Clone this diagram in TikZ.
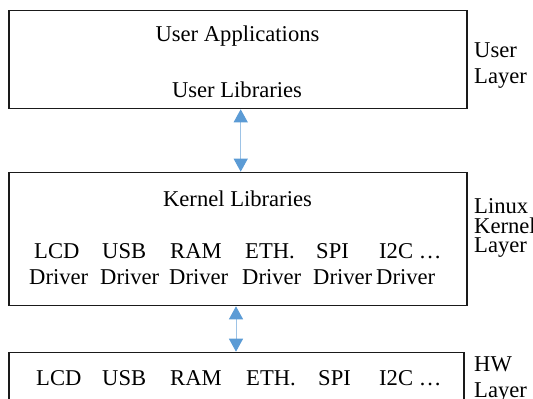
\documentclass[tikz,border=0pt]{standalone}
\usepackage{fontspec}
\setmainfont{Liberation Serif}
\newfontfamily\layerfont{Liberation Serif}
\usetikzlibrary{arrows.meta}
\definecolor{framegray}{HTML}{1A1A1A}
\definecolor{linkblue}{HTML}{5B9BD5}
\definecolor{linkline}{HTML}{9DC3E6}

\begin{document}
\begin{tikzpicture}[x=1pt,y=-1pt,
  layerbox/.style={draw=framegray,line width=1.6pt,inner sep=0pt},
  boxtext/.style={font=\layerfont\fontsize{22.6}{26}\selectfont,inner sep=0pt,anchor=base},
  devword/.style={font=\layerfont\fontsize{22.6}{26}\selectfont,inner sep=0pt,anchor=base west},
  sidetext/.style={font=\layerfont\fontsize{22.6}{26}\selectfont,inner sep=0pt,anchor=north west,align=left},
  link/.style={draw=linkline,line width=1pt,
    {Triangle[width=14pt,length=13pt,color=linkblue]}-{Triangle[width=14pt,length=13pt,color=linkblue]}}]
  \clip (0,0) rectangle (533,399);

  % User layer
  \node[layerbox,minimum width=458pt,minimum height=98pt] (userbox) at (238,59.5) {};
  \node[boxtext] (userapps) at (237.5,41) {User Applications};
  \node[boxtext] (userlibs) at (237,97) {User Libraries};
  \node[sidetext] (userside) at (474,42.4) {User\\Layer};

  % Kernel layer
  \node[layerbox,minimum width=458pt,minimum height=133pt] (kernelbox) at (238,239) {};
  \node[boxtext] (kernlibs) at (237.5,206) {Kernel Libraries};
  \node[devword] (klcd) at (34,258) {LCD};
  \node[devword] (kusb) at (102,258) {USB};
  \node[devword] (kram) at (170,258) {RAM};
  \node[devword] (keth) at (245,258) {ETH.};
  \node[devword] (kspi) at (316,258) {SPI};
  \node[devword] (ki2c) at (379,258) {I2C …};
  \node[devword] (dlcd) at (29,284) {Driver};
  \node[devword] (dusb) at (100,284) {Driver};
  \node[devword] (dram) at (169,284) {Driver};
  \node[devword] (deth) at (242,284) {Driver};
  \node[devword] (dspi) at (313,284) {Driver};
  \node[devword] (di2c) at (376,284) {Driver};
  \node[sidetext,font=\layerfont\fontsize{22.6}{19.5}\selectfont] (kernside) at (474,198.4) {Linux\\Kernel\\Layer};

  % HW layer
  \node[layerbox,minimum width=455pt,minimum height=100pt] (hwbox) at (236.5,402.5) {};
  \node[devword] (hlcd) at (36,385) {LCD};
  \node[devword] (husb) at (102,385) {USB};
  \node[devword] (hram) at (170,385) {RAM};
  \node[devword] (heth) at (246,385) {ETH.};
  \node[devword] (hspi) at (318,385) {SPI};
  \node[devword] (hi2c) at (379,385) {I2C …};
  \node[sidetext] (hwside) at (474,356.4) {HW\\Layer};

  % Links
  \draw[link] ([xshift=2.7pt]userbox.south) -- ([xshift=2.7pt]kernelbox.north);
  \draw[link] ([xshift=-2pt]kernelbox.south) -- ([xshift=-0.5pt]hwbox.north);
\end{tikzpicture}
\end{document}
